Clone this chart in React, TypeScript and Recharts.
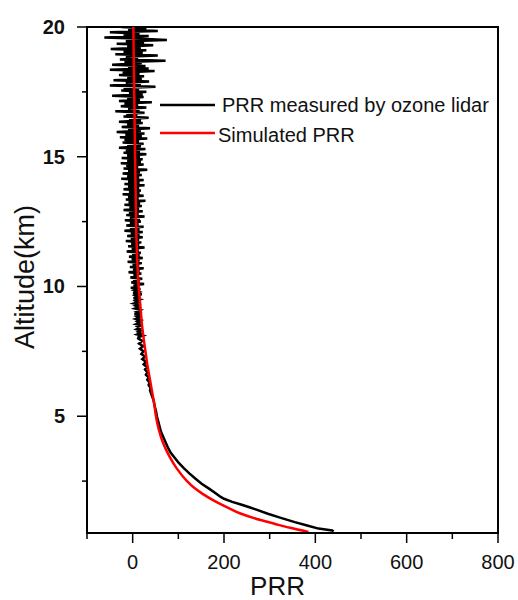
import React from 'react';
import { LineChart, Line, XAxis, YAxis, Legend, ReferenceArea } from 'recharts';

// measured PRR, noisy upper part [altitude km, PRR]
const measuredUpper: [number, number][] = [
  [20.0, -25], [19.95, 30], [19.9, -10], [19.85, 55], [19.8, -50], [19.75, 15], [19.7, -20], [19.65, 35], [19.6, -62], [19.55, 20],
  [19.5, 75], [19.45, -15], [19.4, 25], [19.35, -35], [19.3, 45], [19.25, -12], [19.2, 18], [19.15, -48], [19.1, 30], [19.05, -20],
  [19.0, 22], [18.95, -38], [18.9, 55], [18.85, -15], [18.8, 12], [18.75, -28], [18.7, 72], [18.65, -18], [18.6, 20], [18.55, -45],
  [18.5, 28], [18.45, -10], [18.4, 35], [18.35, -50], [18.3, 48], [18.25, -22], [18.2, 15], [18.15, -30], [18.1, 25], [18.05, -12],
  [18.0, 20], [17.95, -42], [17.9, 36], [17.85, -15], [17.8, 18], [17.75, -50], [17.7, 50], [17.65, -20], [17.6, 14], [17.55, -25],
  [17.5, 30], [17.45, -8], [17.4, 22], [17.35, -45], [17.3, 24], [17.25, -12], [17.2, 16], [17.15, -30], [17.1, 42], [17.05, -18],
  [17.0, 12], [16.95, -26], [16.9, 30], [16.85, -10], [16.8, 15], [16.75, -38], [16.7, 26], [16.65, -14], [16.6, 10], [16.55, -20],
  [16.5, 35], [16.45, -8], [16.4, 18], [16.35, -30], [16.3, 22], [16.25, -12], [16.2, 14], [16.15, -24], [16.1, 38], [16.05, -10],
  [16.0, 18], [15.95, -35], [15.9, 26], [15.85, -16], [15.8, 20], [15.75, -28], [15.7, 32], [15.65, -18], [15.6, 14], [15.55, -22],
  [15.5, 24], [15.45, -12], [15.4, 18], [15.35, -30], [15.3, 28], [15.25, -15], [15.2, 16], [15.15, -20], [15.1, 30], [15.05, -12],
  [15.0, 16], [14.95, -24], [14.9, 22], [14.85, -12], [14.8, 18], [14.75, -26], [14.7, 24], [14.65, -14], [14.6, 12], [14.55, -20],
  [14.5, 32], [14.45, -10], [14.4, 16], [14.35, -22], [14.3, 20], [14.25, -12], [14.2, 14], [14.15, -25], [14.1, 24], [14.05, -10],
  [14.0, 15], [13.95, -18], [13.9, 26], [13.85, -10], [13.8, 14], [13.75, -20], [13.7, 18], [13.65, -8], [13.6, 15], [13.55, -22],
  [13.5, 24], [13.45, -10], [13.4, 13], [13.35, -15], [13.3, 28], [13.25, -9], [13.2, 16], [13.15, -18], [13.1, 20], [13.05, -7],
  [13.0, 14], [12.95, -20], [12.9, 22], [12.85, -8], [12.8, 13], [12.75, -14], [12.7, 26], [12.65, -6], [12.6, 16], [12.55, -17],
  [12.5, 18], [12.45, -6], [12.4, 13], [12.35, -14], [12.3, 24], [12.25, -6], [12.2, 15], [12.15, -18], [12.1, 22], [12.05, -4],
  [12.0, 15], [11.95, -12], [11.9, 22], [11.85, -4], [11.8, 14], [11.75, -15], [11.7, 19], [11.65, -3], [11.6, 14], [11.55, -10],
  [11.5, 26], [11.45, -2], [11.4, 13], [11.35, -13], [11.3, 18], [11.25, -1], [11.2, 15], [11.15, -8], [11.1, 22], [11.05, -2],
  [11.0, 15], [10.95, -11], [10.9, 20], [10.85, 0], [10.8, 14], [10.75, -6], [10.7, 24], [10.65, 1], [10.6, 15], [10.55, -9],
  [10.5, 19], [10.45, 2], [10.4, 13], [10.35, -5], [10.3, 21], [10.25, 1], [10.2, 15], [10.15, -3], [10.1, 25], [10.05, 2],
  [10.0, 12], [9.95, -4], [9.9, 17], [9.85, 5], [9.8, 13], [9.75, 1], [9.7, 20], [9.65, 6], [9.6, 12], [9.55, 2],
  [9.5, 15], [9.45, 6], [9.4, 11], [9.35, 3], [9.3, 18], [9.25, 7], [9.2, 13], [9.15, 5], [9.1, 16], [9.05, 8],
  [9.0, 14], [8.95, 4], [8.9, 19], [8.85, 9], [8.8, 15], [8.75, 7], [8.7, 17], [8.65, 10], [8.6, 15], [8.55, 8],
  [8.5, 21], [8.45, 11], [8.4, 16], [8.35, 9], [8.3, 18], [8.25, 12], [8.2, 17], [8.15, 10], [8.1, 22], [8.05, 13],
  [8.0, 12], [7.9, 21], [7.8, 14], [7.7, 23], [7.6, 16], [7.5, 24], [7.4, 19], [7.3, 27], [7.2, 21], [7.1, 29],
  [7.0, 24], [6.9, 31], [6.8, 27], [6.7, 32], [6.6, 29], [6.5, 35], [6.4, 32], [6.3, 37], [6.2, 35], [6.1, 39],
];

// measured PRR, smooth lower part
const measuredLower: [number, number][] = [
  [6.0, 38], [5.8, 42], [5.6, 46], [5.4, 48], [5.2, 51], [5.0, 53], [4.8, 56], [4.6, 59], [4.4, 62], [4.2, 67],
  [4.0, 72], [3.8, 77], [3.6, 83], [3.4, 92], [3.2, 101], [3.0, 112], [2.8, 124], [2.6, 137], [2.4, 151], [2.2, 168],
  [2.0, 184], [1.9, 192], [1.82, 200], [1.7, 218], [1.6, 237], [1.5, 254], [1.4, 271], [1.24, 296], [1.1, 321],
  [0.92, 355], [0.8, 380], [0.67, 407], [0.6, 437], [0.56, 440],
];

const simulated: [number, number][] = [
  [20, 1.5], [19, 2.2], [18, 3], [17, 3.8], [16, 4.5], [15, 5.3], [14, 6.2], [13, 7], [12, 8], [11, 10],
  [10, 13], [9.5, 15.5], [9, 18], [8.5, 20.5], [8, 24], [7.5, 28], [7, 32], [6.5, 37], [6, 42], [5.5, 47],
  [5, 51], [4.5, 57], [4, 66], [3.5, 79], [3, 96], [2.5, 119], [2.25, 134], [2, 154], [1.75, 178], [1.5, 206],
  [1.25, 236], [1, 280], [0.85, 312], [0.7, 345], [0.54, 385],
];

const xTicks = [-100, 0, 100, 200, 300, 400, 500, 600, 700, 800];
const yTicks = [2.5, 5, 7.5, 10, 12.5, 15, 17.5, 20];

const measuredData = [...measuredUpper, ...measuredLower].map(([alt, prr]) => ({ alt, prr }));
const simulatedData = simulated.map(([alt, prr]) => ({ alt, prr }));

const FONT = '"Liberation Sans", Arial, sans-serif';

const XTick = (props: any) => {
  const { x, y, payload } = props;
  const v = payload.value;
  const major = v % 200 === 0;
  return (
    <g>
      <line x1={x} x2={x} y1={y} y2={y + (major ? 10 : 6)} stroke="#000" strokeWidth={1.5} />
      {major && (
        <text x={x} y={y + 36} textAnchor="middle" fontSize={20} fontFamily={FONT} fill="#111">
          {v}
        </text>
      )}
    </g>
  );
};

const YTick = (props: any) => {
  const { x, y, payload } = props;
  const v = payload.value;
  const major = v % 5 === 0;
  return (
    <g>
      <line x1={x - (major ? 10 : 5)} x2={x} y1={y} y2={y} stroke="#000" strokeWidth={1.5} />
      {major && (
        <text x={x - 22} y={y + 7} textAnchor="end" fontSize={20} fontWeight="bold" fontFamily={FONT} fill="#111">
          {v}
        </text>
      )}
    </g>
  );
};

const renderLegend = () => (
  <div style={{ fontFamily: FONT, fontSize: 20, color: '#111' }}>
    <div style={{ display: 'flex', alignItems: 'center', height: 28 }}>
      <svg width={55} height={4}>
        <line x1={0} x2={55} y1={2} y2={2} stroke="#000" strokeWidth={2.5} />
      </svg>
      <span style={{ marginLeft: 7, whiteSpace: 'nowrap' }}>PRR measured by ozone lidar</span>
    </div>
    <div style={{ display: 'flex', alignItems: 'center', height: 28 }}>
      <svg width={55} height={4}>
        <line x1={0} x2={55} y1={2} y2={2} stroke="#f00" strokeWidth={2.5} />
      </svg>
      <span style={{ marginLeft: 3, marginTop: 4, whiteSpace: 'nowrap' }}>Simulated PRR</span>
    </div>
  </div>
);

export default function App() {
  return (
    <div style={{ position: 'absolute', left: 0, top: 0, width: 518, height: 600, background: '#fff', overflow: 'hidden' }}>
      <LineChart
        width={518}
        height={600}
        layout="vertical"
        margin={{ top: 27, right: 20, left: 0, bottom: 0 }}
        style={{ overflow: 'visible' }}
      >
        <XAxis
          type="number"
          dataKey="prr"
          domain={[-100, 800]}
          ticks={xTicks}
          interval={0}
          height={67}
          tickSize={0}
          tickMargin={0}
          tickLine={false}
          tick={<XTick />}
          axisLine={{ stroke: '#000', strokeWidth: 2 }}
          allowDataOverflow
          label={{ value: 'PRR', position: 'insideBottom', offset: 5, dx: -15, fontSize: 26, fontFamily: FONT, fill: '#111' }}
        />
        <YAxis
          type="number"
          dataKey="alt"
          domain={[0.5, 20]}
          reversed
          ticks={yTicks}
          interval={0}
          width={87}
          tickSize={0}
          tickMargin={0}
          tickLine={false}
          tick={<YTick />}
          axisLine={{ stroke: '#000', strokeWidth: 2 }}
          allowDataOverflow
          label={{ value: 'Altitude(km)', angle: -90, position: 'insideLeft', offset: 24, dy: -3, fontSize: 27, fontFamily: FONT, fill: '#111', style: { textAnchor: 'middle' } }}
        />
        <ReferenceArea x1={-100} x2={800} y1={0.5} y2={20} fill="none" stroke="#000" strokeWidth={2} />
        <Line
          data={measuredData}
          dataKey="prr"
          name="PRR measured by ozone lidar"
          stroke="#000"
          strokeWidth={2.5}
          dot={false}
          type="linear"
          isAnimationActive={false}
        />
        <Line
          data={simulatedData}
          dataKey="prr"
          name="Simulated PRR"
          stroke="#f00"
          strokeWidth={2.5}
          dot={false}
          type="monotone"
          isAnimationActive={false}
        />
        <Legend
          layout="vertical"
          align="center"
          verticalAlign="middle"
          content={renderLegend}
          wrapperStyle={{ position: 'absolute', left: 160, top: 91, width: 350, height: 56 }}
        />
      </LineChart>
    </div>
  );
}
